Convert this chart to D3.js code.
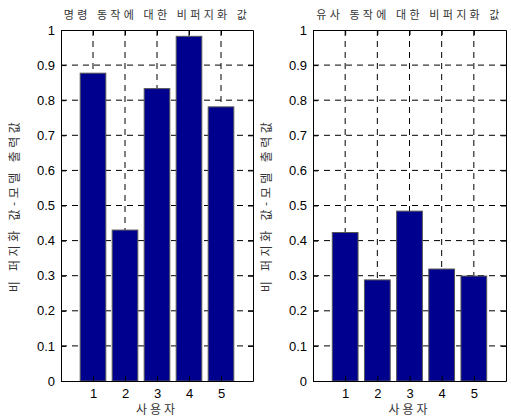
<!DOCTYPE html>
<html lang="ko">
<head>
    <meta charset="UTF-8">
    <title>비퍼지화 값</title>
    <style>
        body { margin: 0; background: #fff; }
        .kr { font-family: 'Noto Sans CJK KR', sans-serif; fill: #333; }
    </style>
</head>
<body>
    <svg id="svg" width="511" height="417"></svg>

    <script src="https://d3js.org/d3.v7.min.js"></script>
    <script>
        // data
        const users = [1, 2, 3, 4, 5]
        const commandValues = [0.877, 0.430, 0.833, 0.982, 0.781]
        const similarValues = [0.423, 0.288, 0.484, 0.319, 0.299]
        const yTicks = [0, 0.1, 0.2, 0.3, 0.4, 0.5, 0.6, 0.7, 0.8, 0.9, 1]
        const titles = ['명령 동작에 대한 비퍼지화 값', '유사 동작에 대한 비퍼지화 값']
        const xLabel = '사용자'
        const yLabel = '비 퍼지화 값-모델 출력값'

        const svg = d3.select('#svg')

        function drawPanel(left, right, title, values) {
            const top = 30, bottom = 381
            const x = d3.scaleLinear().domain([0, 6]).range([left, right])
            const y = d3.scaleLinear().domain([0, 1]).range([bottom, top])
            const g = svg.append('g')

            // grid
            g.selectAll('.hgrid')
                .data(yTicks.slice(1, -1))
                .enter()
                .append('line')
                .attr('x1', left).attr('x2', right)
                .attr('y1', d => y(d)).attr('y2', d => y(d))
                .attr('stroke', '#000')
                .attr('stroke-dasharray', '6,5')
            g.selectAll('.vgrid')
                .data(users)
                .enter()
                .append('line')
                .attr('x1', d => x(d)).attr('x2', d => x(d))
                .attr('y1', top).attr('y2', bottom)
                .attr('stroke', '#000')
                .attr('stroke-dasharray', '6,5')

            // bars
            const bw = x(0.8) - x(0)
            g.selectAll('rect')
                .data(values)
                .enter()
                .append('rect')
                .attr('x', (d, i) => x(users[i]) - bw / 2)
                .attr('y', d => y(d))
                .attr('width', bw)
                .attr('height', d => y(0) - y(d))
                .attr('fill', '#00008f')
                .attr('stroke', '#555')
                .attr('stroke-width', 1)

            // axes, ticks pointing in
            const axes = [
                g.append('g')
                    .attr('transform', `translate(${left},0)`)
                    .call(d3.axisLeft(y).tickValues(yTicks).tickFormat(d3.format('')).tickSize(-5).tickSizeOuter(0).tickPadding(6)),
                g.append('g')
                    .attr('transform', `translate(${right},0)`)
                    .call(d3.axisRight(y).tickValues(yTicks).tickFormat('').tickSize(-5).tickSizeOuter(0)),
                g.append('g')
                    .attr('transform', `translate(0,${bottom})`)
                    .call(d3.axisBottom(x).tickValues(users).tickFormat(d3.format('d')).tickSize(-5).tickSizeOuter(0).tickPadding(8)),
                g.append('g')
                    .attr('transform', `translate(0,${top})`)
                    .call(d3.axisTop(x).tickValues(users).tickFormat('').tickSize(-5).tickSizeOuter(0))
            ]
            axes.forEach(a => a
                .attr('font-family', "'Liberation Sans', Arial, sans-serif")
                .attr('font-size', 13))
            g.selectAll('.domain').attr('stroke', '#000')
            g.selectAll('.tick line').attr('stroke', '#000')

            // labels
            const cx = (left + right) / 2
            g.append('text')
                .attr('class', 'kr')
                .attr('x', cx)
                .attr('y', 19)
                .attr('text-anchor', 'middle')
                .style('font-size', '11px')
                .style('letter-spacing', '3.3px')
                .text(title)
            g.append('text')
                .attr('class', 'kr')
                .attr('x', cx)
                .attr('y', 414)
                .attr('text-anchor', 'middle')
                .style('font-size', '12px')
                .style('letter-spacing', '3px')
                .text(xLabel)
            g.append('text')
                .attr('class', 'kr')
                .attr('transform', `translate(${left - 42},${(top + bottom) / 2}) rotate(-90)`)
                .attr('text-anchor', 'middle')
                .style('font-size', '12px')
                .style('letter-spacing', '3.5px')
                .text(yLabel)
        }

        drawPanel(61, 253, titles[0], commandValues)
        drawPanel(313, 506, titles[1], similarValues)
    </script>
</body>
</html>
